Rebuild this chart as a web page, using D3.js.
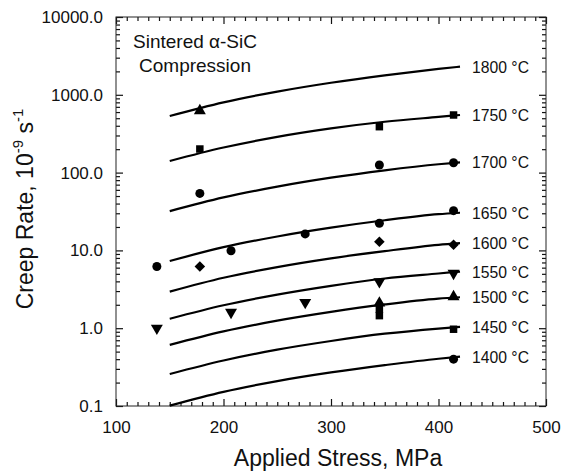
<!DOCTYPE html>
<html>
<head>
<meta charset="utf-8">
<script src="https://cdn.jsdelivr.net/npm/d3@7"></script>
<style>
  body { margin: 0; background: white; }
  svg { display: block; }
  text { font-family: Arial, "Liberation Sans", sans-serif; fill: #111; }
</style>
</head>
<body>
<div id="chart"></div>
<script>
let w = 561;
let h = 472;

// temperatures, top curve first
let temps = [1800, 1750, 1700, 1650, 1600, 1550, 1500, 1450, 1400];

// stresses (MPa) where the fitted curves were read
let curveStress = [150, 200, 250, 300, 350, 400, 420];

// fitted creep rate curves (10^-9 s^-1)
let rate1800 = [534, 800, 1100, 1430, 1780, 2150, 2300];
let rate1750 = [141, 210, 288, 370, 450, 520, 550];
let rate1700 = [32, 48, 66, 86, 107, 128, 135];
let rate1650 = [7.3, 11, 15.1, 19.6, 24.4, 29.2, 30.5];
let rate1600 = [2.95, 4.45, 6.1, 7.9, 9.8, 11.8, 12.4];
let rate1550 = [1.32, 1.97, 2.7, 3.5, 4.35, 5.05, 5.35];
let rate1500 = [0.61, 0.91, 1.25, 1.62, 2.02, 2.4, 2.5];
let rate1450 = [0.258, 0.385, 0.53, 0.685, 0.85, 0.99, 1.04];
let rate1400 = [0.101, 0.152, 0.209, 0.27, 0.335, 0.405, 0.43];

// measured points [stress, rate]
let obs1800 = [[178, 625]];
let obs1750 = [[178, 201], [345, 389], [414, 550]];
let obs1700 = [[178, 54], [345, 125], [414, 134]];
let obs1650 = [[138, 6.2], [207, 9.9], [276, 16.3], [345, 22.3], [414, 32.4]];
let obs1600 = [[178, 6.2], [345, 12.9], [414, 11.8]];
let obs1550 = [[138, 1.0], [207, 1.6], [276, 2.15], [345, 3.96], [414, 5.08]];
let obs1500 = [[345, 2.1], [414, 2.54]];
let obs1450 = [[345, 1.75], [345, 1.45], [414, 0.97]];
let obs1400 = [[414, 0.40]];

let markerShapes = ["triUp", "square", "circle", "circle", "diamond", "triDown", "triUp", "square", "circle"];

let xTicks = [100, 200, 300, 400, 500];
let yTicks = [0.1, 1, 10, 100, 1000, 10000];

let curves = [rate1800, rate1750, rate1700, rate1650, rate1600, rate1550, rate1500, rate1450, rate1400];
let observed = [obs1800, obs1750, obs1700, obs1650, obs1600, obs1550, obs1500, obs1450, obs1400];

let series = temps.map(function(t, i) {
  return {
    temp: t,
    line: curveStress.map(function(s, j) { return [s, curves[i][j]]; }),
    points: observed[i],
    shape: markerShapes[i]
  };
});

let padLeft = 116, padRight = 546, padTop = 17, padBottom = 406;

let x = d3.scaleLinear().domain([100, 500]).range([padLeft, padRight]);
let y = d3.scaleLog().domain([0.1, 10000]).range([padBottom, padTop]);

let viz = d3.select("#chart")
  .append("svg")
  .attr("width", w)
  .attr("height", h)
  .style("background-color", "white");

// minor ticks
let xMinor = d3.range(110, 500, 10).filter(function(d) { return d % 100 != 0; });
let yMinor = [];
[0.1, 1, 10, 100, 1000].forEach(function(dec) {
  for (let k = 2; k <= 9; k++) yMinor.push(dec * k);
});

function styleAxis(g) {
  g.select(".domain").remove();
  g.selectAll("line").attr("stroke", "#111").attr("stroke-width", 1.2);
  g.selectAll("text").attr("font-size", "17px").attr("fill", "#111")
    .style("font-family", "Arial, 'Liberation Sans', sans-serif");
}

// left axis
viz.append("g").attr("transform", "translate(" + padLeft + ",0)")
  .call(d3.axisLeft(y).tickValues(yTicks).tickSize(-7).tickPadding(13).tickFormat(d3.format(".1f")))
  .call(styleAxis);
viz.append("g").attr("transform", "translate(" + padLeft + ",0)")
  .call(d3.axisLeft(y).tickValues(yMinor).tickSize(-4).tickFormat(""))
  .call(styleAxis);
// right axis
viz.append("g").attr("transform", "translate(" + padRight + ",0)")
  .call(d3.axisRight(y).tickValues(yTicks).tickSize(-7).tickFormat(""))
  .call(styleAxis);
viz.append("g").attr("transform", "translate(" + padRight + ",0)")
  .call(d3.axisRight(y).tickValues(yMinor).tickSize(-4).tickFormat(""))
  .call(styleAxis);
// bottom axis
viz.append("g").attr("transform", "translate(0," + padBottom + ")")
  .call(d3.axisBottom(x).tickValues(xTicks).tickSize(-7).tickPadding(15).tickFormat(d3.format("d")))
  .call(styleAxis);
viz.append("g").attr("transform", "translate(0," + padBottom + ")")
  .call(d3.axisBottom(x).tickValues(xMinor).tickSize(-4).tickFormat(""))
  .call(styleAxis);
// top axis
viz.append("g").attr("transform", "translate(0," + padTop + ")")
  .call(d3.axisTop(x).tickValues(xTicks).tickSize(-7).tickFormat(""))
  .call(styleAxis);
viz.append("g").attr("transform", "translate(0," + padTop + ")")
  .call(d3.axisTop(x).tickValues(xMinor).tickSize(-4).tickFormat(""))
  .call(styleAxis);

// frame
viz.append("rect")
  .attr("x", padLeft)
  .attr("y", padTop)
  .attr("width", padRight - padLeft)
  .attr("height", padBottom - padTop)
  .attr("fill", "none")
  .attr("stroke", "#222")
  .attr("stroke-width", 1);

// curves
let line = d3.line()
  .x(function(d) { return x(d[0]); })
  .y(function(d) { return y(d[1]); })
  .curve(d3.curveMonotoneX);

viz.selectAll(".curve").data(series).enter()
  .append("path")
  .attr("class", "curve")
  .attr("d", function(d) { return line(d.line); })
  .attr("fill", "none")
  .attr("stroke", "#000")
  .attr("stroke-width", 2.2);

// markers
function symbolPath(shape) {
  if (shape == "circle") return d3.symbol(d3.symbolCircle, 64)();
  if (shape == "square" || shape == "diamond") return d3.symbol(d3.symbolSquare, 56)();
  return d3.symbol(d3.symbolTriangle, 62)();
}

let groups = viz.selectAll(".series").data(series).enter()
  .append("g")
  .attr("class", "series");

groups.selectAll(".pt")
  .data(function(d) { return d.points.map(function(p) { return { p: p, shape: d.shape }; }); })
  .enter()
  .append("path")
  .attr("class", "pt")
  .attr("d", function(d) { return symbolPath(d.shape); })
  .attr("transform", function(d) {
    let t = "translate(" + x(d.p[0]) + "," + y(d.p[1]) + ")";
    if (d.shape == "triDown") t += " rotate(180)";
    if (d.shape == "diamond") t += " rotate(45)";
    return t;
  })
  .attr("fill", "#000");

// temperature labels at the curve ends
groups.append("text")
  .text(function(d) { return d.temp + " °C"; })
  .attr("x", 472)
  .attr("y", function(d) { return y(d.line[d.line.length - 1][1]) + 6; })
  .attr("font-size", "17px")
  .attr("textLength", 57)
  .attr("lengthAdjust", "spacingAndGlyphs");

// annotation
viz.append("text")
  .text("Sintered α-SiC")
  .attr("x", 195)
  .attr("y", 48)
  .attr("text-anchor", "middle")
  .attr("font-size", "19px");
viz.append("text")
  .text("Compression")
  .attr("x", 195)
  .attr("y", 72)
  .attr("text-anchor", "middle")
  .attr("font-size", "19px");

// axis titles
viz.append("text")
  .text("Applied Stress, MPa")
  .attr("x", 338)
  .attr("y", 466)
  .attr("text-anchor", "middle")
  .attr("font-size", "23px");

let yTitle = viz.append("text")
  .attr("transform", "translate(33,209) rotate(-90)")
  .attr("text-anchor", "middle")
  .attr("font-size", "23px");
yTitle.append("tspan").text("Creep Rate, 10");
yTitle.append("tspan").text("-9").attr("font-size", "15px").attr("dy", -10);
yTitle.append("tspan").text(" s").attr("dy", 10);
yTitle.append("tspan").text("-1").attr("font-size", "15px").attr("dy", -10);
</script>
</body>
</html>
